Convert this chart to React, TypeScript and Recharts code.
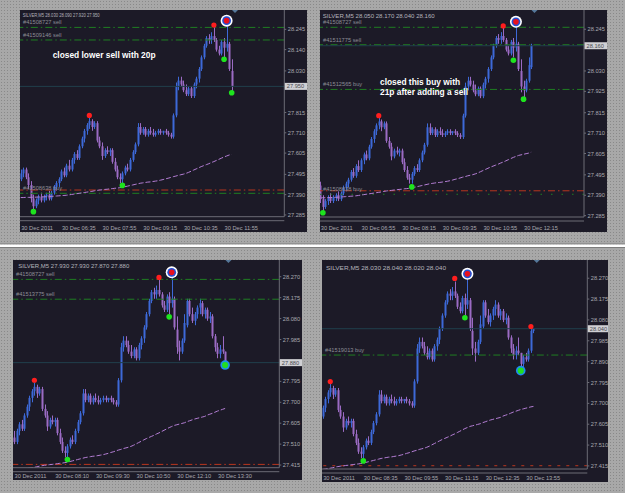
import React from "react";
import {
  ComposedChart,
  Bar,
  Line,
  Scatter,
  XAxis,
  YAxis,
  ReferenceLine,
  ReferenceDot,
} from "recharts";

const FONT = "'Liberation Sans', Arial, sans-serif";
const BG = "#1c1a27";
const BULL = "#3d69d8";
const BEAR = "#9b6bc4";
const MA_COL = "#b47ed4";
const AXIS = "#6c6c76";
const TXT = "#a9a9b0";
const BID = "#203f4c";

// SILVER M5, 30 Dec 2011 - bar 0 = 05:15 ... bar 107 = 14:10
const barOpen = [
  27.47, 27.5, 27.52, 27.48, 27.44, 27.37, 27.33, 27.36, 27.38, 27.36,
  27.38, 27.39, 27.37, 27.4, 27.43, 27.45, 27.47, 27.51, 27.49, 27.54,
  27.52, 27.57, 27.6, 27.58, 27.64, 27.68, 27.72, 27.75, 27.77, 27.74,
  27.76, 27.67, 27.64, 27.59, 27.62, 27.61, 27.62, 27.56, 27.52, 27.48,
  27.47, 27.5, 27.53, 27.52, 27.57, 27.61, 27.65, 27.74, 27.71, 27.73,
  27.7, 27.72, 27.71, 27.7, 27.71, 27.72, 27.71, 27.72, 27.71, 27.7,
  27.69, 27.8, 27.95, 27.98, 27.96, 27.93, 27.91, 27.94, 27.9, 27.96,
  27.99, 28.04, 28.1, 28.16, 28.2, 28.19, 28.21, 28.19, 28.14, 28.12,
  28.18, 28.15, 28.17, 28.03, 27.95, 27.93, 27.98, 28.05, 28.16, 28.1,
  28.07, 28.1, 28.13, 28.15, 28.1, 28.12, 28.08, 28.09, 28.0, 27.95,
  27.92, 27.94, 27.93, 27.88, 27.91, 27.9, 27.94, 28.03,
];
const barHigh = [
  27.52, 27.53, 27.53, 27.5, 27.46, 27.39, 27.37, 27.39, 27.4, 27.39,
  27.4, 27.41, 27.41, 27.44, 27.46, 27.48, 27.52, 27.53, 27.55, 27.57,
  27.58, 27.61, 27.62, 27.65, 27.69, 27.73, 27.76, 27.79, 27.78, 27.77,
  27.77, 27.69, 27.66, 27.63, 27.64, 27.63, 27.63, 27.58, 27.54, 27.5,
  27.51, 27.54, 27.55, 27.58, 27.62, 27.66, 27.76, 27.76, 27.74, 27.74,
  27.73, 27.74, 27.73, 27.72, 27.73, 27.73, 27.72, 27.73, 27.72, 27.71,
  27.81, 27.97, 28.0, 28.0, 27.98, 27.96, 27.95, 27.95, 27.97, 28.0,
  28.05, 28.11, 28.17, 28.21, 28.22, 28.23, 28.255, 28.2, 28.16, 28.19,
  28.2, 28.28, 28.18, 28.09, 27.98, 27.99, 28.1, 28.17, 28.17, 28.13,
  28.11, 28.14, 28.17, 28.16, 28.13, 28.13, 28.11, 28.1, 28.01, 27.97,
  27.96, 28.0, 27.93, 27.92, 27.93, 27.95, 28.04, 28.04,
];
const barLow = [
  27.46, 27.48, 27.47, 27.42, 27.35, 27.31, 27.32, 27.34, 27.35, 27.35,
  27.36, 27.36, 27.36, 27.39, 27.41, 27.43, 27.46, 27.48, 27.48, 27.51,
  27.51, 27.55, 27.57, 27.57, 27.63, 27.66, 27.7, 27.73, 27.72, 27.73,
  27.66, 27.63, 27.57, 27.58, 27.6, 27.59, 27.55, 27.51, 27.47, 27.45,
  27.45, 27.49, 27.51, 27.51, 27.56, 27.6, 27.64, 27.7, 27.7, 27.69,
  27.69, 27.7, 27.69, 27.69, 27.7, 27.7, 27.7, 27.7, 27.69, 27.68,
  27.68, 27.79, 27.93, 27.95, 27.92, 27.9, 27.9, 27.89, 27.89, 27.94,
  27.97, 28.03, 28.09, 28.15, 28.17, 28.17, 28.18, 28.13, 28.11, 28.11,
  28.1, 28.13, 28.03, 27.92, 27.89, 27.92, 27.97, 28.04, 28.09, 28.06,
  28.05, 28.08, 28.1, 28.09, 28.08, 28.07, 28.06, 27.99, 27.93, 27.9,
  27.9, 27.92, 27.87, 27.86, 27.89, 27.89, 27.93, 28.02,
];
const barClose = [
  27.5, 27.52, 27.48, 27.44, 27.37, 27.33, 27.36, 27.38, 27.36, 27.38,
  27.39, 27.37, 27.4, 27.43, 27.45, 27.47, 27.51, 27.49, 27.54, 27.52,
  27.57, 27.6, 27.58, 27.64, 27.68, 27.72, 27.75, 27.77, 27.74, 27.76,
  27.67, 27.64, 27.59, 27.62, 27.61, 27.62, 27.56, 27.52, 27.48, 27.47,
  27.5, 27.53, 27.52, 27.57, 27.61, 27.65, 27.74, 27.71, 27.73, 27.7,
  27.72, 27.71, 27.7, 27.71, 27.72, 27.71, 27.72, 27.71, 27.7, 27.69,
  27.8, 27.95, 27.98, 27.96, 27.93, 27.91, 27.94, 27.9, 27.96, 27.99,
  28.04, 28.1, 28.16, 28.2, 28.19, 28.21, 28.19, 28.14, 28.12, 28.18,
  28.15, 28.17, 28.04, 27.95, 27.93, 27.98, 28.06, 28.16, 28.1, 28.07,
  28.1, 28.13, 28.15, 28.1, 28.12, 28.08, 28.09, 28.0, 27.95, 27.92,
  27.94, 27.93, 27.88, 27.91, 27.9, 27.94, 28.03, 28.04,
];
// slow moving average as drawn on the chart
const maLine = [
  27.375, 27.375, 27.376, 27.376, 27.376, 27.377, 27.377, 27.378, 27.378, 27.379,
  27.379, 27.38, 27.381, 27.382, 27.383, 27.384, 27.385, 27.386, 27.387, 27.389,
  27.391, 27.393, 27.395, 27.397, 27.399, 27.401, 27.403, 27.405, 27.407, 27.41,
  27.412, 27.414, 27.415, 27.417, 27.418, 27.42, 27.421, 27.423, 27.424, 27.426,
  27.428, 27.431, 27.434, 27.437, 27.44, 27.443, 27.446, 27.449, 27.451, 27.453,
  27.455, 27.456, 27.458, 27.46, 27.462, 27.465, 27.468, 27.472, 27.475, 27.479,
  27.483, 27.486, 27.49, 27.493, 27.496, 27.5, 27.505, 27.511, 27.517, 27.523,
  27.529, 27.535, 27.54, 27.545, 27.55, 27.556, 27.561, 27.567, 27.573, 27.579,
  27.585, 27.59, 27.595, 27.598, 27.601, 27.604, 27.607, 27.612, 27.616, 27.62,
  27.624, 27.627, 27.63, 27.633, 27.636, 27.642, 27.646, 27.65, 27.655, 27.66,
  27.664, 27.668, 27.672, 27.675, 27.678, 27.681, 27.684, 27.686,
];

const yTicksWide = [28.245, 28.14, 28.03, 27.925, 27.815, 27.71, 27.605, 27.495, 27.39, 27.285];
const yTicksTight = [28.27, 28.175, 28.08, 27.985, 27.89, 27.795, 27.7, 27.605, 27.51, 27.415];

const p1TimeTicks = [0, 16, 32, 48, 64, 80];
const p1TimeLabels = ["30 Dec 2011", "30 Dec 06:35", "30 Dec 07:55", "30 Dec 09:15", "30 Dec 10:35", "30 Dec 11:55"];
const p2TimeTicks = [4, 20, 36, 52, 68, 84];
const p2TimeLabels = ["30 Dec 2011", "30 Dec 06:55", "30 Dec 08:15", "30 Dec 09:35", "30 Dec 10:55", "30 Dec 12:15"];
const p3TimeTicks = [19, 35, 51, 67, 83, 99];
const p3TimeLabels = ["30 Dec 2011", "30 Dec 08:10", "30 Dec 09:30", "30 Dec 10:50", "30 Dec 12:10", "30 Dec 13:30"];
const p4TimeTicks = [24, 40, 56, 72, 88, 104];
const p4TimeLabels = ["30 Dec 2011", "30 Dec 08:35", "30 Dec 09:55", "30 Dec 11:15", "30 Dec 12:35", "30 Dec 13:55"];

// order lines: price, kind, ticket label
const p1OrderPrices = [28.255, 28.19, 27.414, 27.397];
const p1OrderKinds = ["order", "order", "stop", "order"];
const p1OrderLabels = ["#41508727 sell", "#41509146 sell", "", "#41508638 buy"];
const p2OrderPrices = [28.255, 28.165, 27.935, 27.413, 27.395];
const p2OrderKinds = ["order", "order", "order", "stop", "take"];
const p2OrderLabels = ["#41508727 sell", "#41511775 sell", "#41512565 buy", "", "#41508638 buy"];
const p3OrderPrices = [28.258, 28.168, 27.418];
const p3OrderKinds = ["order", "order", "stop"];
const p3OrderLabels = ["#41508727 sell", "#41513775 sell", ""];
const p4OrderPrices = [27.92, 27.416];
const p4OrderKinds = ["order", "pending"];
const p4OrderLabels = ["#41519013 buy", ""];

// indicator marks [bar, price]
const p1Red = [[27, 27.8], [76, 28.267]];
const p1Green = [[5, 27.302], [40, 27.438], [80, 28.09], [83, 27.917]];
const p1Target = [[81, 28.29]];
const p1BuyTarget: number[][] = [];
const p2Red = [[27, 27.8], [76, 28.262]];
const p2Green = [[5, 27.3], [40, 27.433], [80, 28.085], [84, 27.885]];
const p2Target = [[81, 28.283]];
const p2BuyTarget: number[][] = [];
const p3Red = [[27, 27.8], [76, 28.267]];
const p3Green = [[40, 27.44], [80, 28.088]];
const p3Target = [[81, 28.29]];
const p3BuyTarget = [[102, 27.869]];
const p4Red = [[27, 27.799], [76, 28.269], [106, 28.05]];
const p4Green = [[40, 27.438], [80, 28.09]];
const p4Target = [[81, 28.29]];
const p4BuyTarget = [[102, 27.849]];

const headers = [
  "SILVER,M5  28.030 28.090 27.920 27.950",
  "SILVER,M5  28.050 28.170 28.040 28.160",
  "SILVER,M5  27.930 27.930 27.870 27.880",
  "SILVER,M5  28.030 28.040 28.020 28.040",
];
const bids = [27.95, 28.16, 27.88, 28.04];

const ROWS = barOpen.map((o, i) => ({
  i,
  open: o,
  high: barHigh[i],
  low: barLow[i],
  close: barClose[i],
  range: [barLow[i], barHigh[i]],
  ma: maLine[i],
}));

const LINE_STYLE: Record<string, { c: string; d: string }> = {
  order: { c: "#1f7f22", d: "7 3 1.5 3" },
  stop: { c: "#b8361e", d: "7 3 1.5 3" },
  take: { c: "#1f7f22", d: "1.5 9" },
  pending: { c: "#b8361e", d: "3 6" },
};

const PANELS = [
  {
    box: { x: 20, y: 10, w: 287, h: 222 }, plot: { l: 20, t: 10, r: 284.3, b: 216.7 },
    from: 0, to: 83, xDomain: [-0.28, 103.7], yDomain: [27.276, 28.345], yTicks: yTicksWide,
    xTicks: p1TimeTicks, xLabels: p1TimeLabels, labelDy: 13,
    prices: p1OrderPrices, kinds: p1OrderKinds, tickets: p1OrderLabels,
    red: p1Red, green: p1Green, target: p1Target, buyTarget: p1BuyTarget,
    header: headers[0], headerX: 22.7, headerY: 17.3, headerW: 77, bid: bids[0],
  },
  {
    box: { x: 320, y: 10, w: 287, h: 222 }, plot: { l: 320, t: 10, r: 584, b: 217 },
    from: 4, to: 87, xDomain: [3.86, 107.8], yDomain: [27.278, 28.344], yTicks: yTicksWide,
    xTicks: p2TimeTicks, xLabels: p2TimeLabels, labelDy: 12.7,
    prices: p2OrderPrices, kinds: p2OrderKinds, tickets: p2OrderLabels,
    red: p2Red, green: p2Green, target: p2Target, buyTarget: p2BuyTarget,
    header: headers[1], headerX: 322.7, headerY: 18, headerW: 112, bid: bids[1],
  },
  {
    box: { x: 13, y: 260, w: 289, h: 220 }, plot: { l: 13, t: 260, r: 279.3, b: 467.7 },
    from: 19, to: 102, xDomain: [18.6, 123.3], yDomain: [27.403, 28.346], yTicks: yTicksTight,
    xTicks: p3TimeTicks, xLabels: p3TimeLabels, labelDy: 10,
    prices: p3OrderPrices, kinds: p3OrderKinds, tickets: p3OrderLabels,
    red: p3Red, green: p3Green, target: p3Target, buyTarget: p3BuyTarget,
    header: headers[2], headerX: 18.3, headerY: 267.7, headerW: 111, bid: bids[2],
  },
  {
    box: { x: 322, y: 260, w: 286, h: 222 }, plot: { l: 322, t: 260, r: 587.3, b: 469 },
    from: 24, to: 107, xDomain: [23.74, 128.2], yDomain: [27.401, 28.353], yTicks: yTicksTight,
    xTicks: p4TimeTicks, xLabels: p4TimeLabels, labelDy: 10.7,
    prices: p4OrderPrices, kinds: p4OrderKinds, tickets: p4OrderLabels,
    red: p4Red, green: p4Green, target: p4Target, buyTarget: p4BuyTarget,
    header: headers[3], headerX: 326, headerY: 269.7, headerW: 120, bid: bids[3],
  },
];

function Candle(props: any) {
  const { x, y, width, height, payload } = props;
  if (!payload || x == null || y == null) return null;
  const { open, high, low, close } = payload;
  const cx = Math.round(x + width / 2);
  const top = Math.min(y, y + height);
  const span = Math.abs(height);
  const k = high > low ? span / (high - low) : 0;
  const yO = top + (high - open) * k;
  const yC = top + (high - close) * k;
  const col = close >= open ? BULL : BEAR;
  return (
    <g>
      <rect x={cx} y={top} width={1} height={Math.max(span, 1)} fill={col} />
      <rect x={cx - 0.5} y={Math.min(yO, yC)} width={2} height={Math.max(Math.abs(yC - yO), 1)} fill={col} />
    </g>
  );
}

const RedDot = (p: any) => <circle cx={p.cx} cy={p.cy} r={2.6} fill="#ff1e1e" />;
const GreenDot = (p: any) => <circle cx={p.cx} cy={p.cy} r={2.8} fill="#1ee41e" />;
const TargetDot = (p: any) => (
  <g>
    <circle cx={p.cx} cy={p.cy} r={6} fill="#ffffff" />
    <circle cx={p.cx} cy={p.cy} r={4.4} fill="#2450d4" />
    <circle cx={p.cx} cy={p.cy} r={2.8} fill="#e8101e" />
  </g>
);
const BuyTargetDot = (p: any) => (
  <g>
    <circle cx={p.cx} cy={p.cy} r={4.8} fill="#1e8cf0" />
    <circle cx={p.cx} cy={p.cy} r={3.1} fill="#22dd22" />
  </g>
);
const ShiftMark = (p: any) => (
  <path d={`M${p.cx - 3},${p.cy} L${p.cx + 3},${p.cy} L${p.cx},${p.cy + 3} Z`} fill="#56789a" />
);

function TimeTick(props: any) {
  const { x, y, payload, pn } = props;
  const k = pn.xTicks.indexOf(payload.value);
  return (
    <text x={x + 0.5} y={y + pn.labelDy} fill={TXT} fontSize={5.7} fontFamily={FONT}>
      {pn.xLabels[k]}
    </text>
  );
}

const toPts = (arr: number[][]) => arr.map(([i, p]) => ({ i, p }));

function PanelChart({ pn }: { pn: any }) {
  const rows = ROWS.slice(pn.from, pn.to + 1);
  const { w, h } = pn.box;
  const yW = pn.box.x + w - pn.plot.r;
  const xH = pn.box.y + h - pn.plot.b;
  // the bid box on the price scale covers the tick next to it
  const yTicks = pn.yTicks.filter((v: number) => Math.abs(v - pn.bid) > 0.03);
  // an empty Scatter would fall back to the chart rows, so skip empty sets
  const markSets = [
    [pn.red, RedDot],
    [pn.green, GreenDot],
    [pn.target, TargetDot],
    [pn.buyTarget, BuyTargetDot],
  ].filter(([pts]) => (pts as number[][]).length > 0);
  return (
    <div style={{ position: "absolute", left: pn.box.x, top: pn.box.y, width: w, height: h, background: BG }}>
      <ComposedChart width={w} height={h} data={rows} margin={{ top: 0, right: 0, bottom: 0, left: 0 }}>
        <XAxis
          dataKey="i"
          type="number"
          domain={pn.xDomain}
          allowDataOverflow
          ticks={pn.xTicks}
          interval={0}
          height={xH}
          tickSize={0}
          tickMargin={0}
          tickLine={false}
          axisLine={{ stroke: AXIS }}
          tick={(t: any) => <TimeTick {...t} pn={pn} />}
        />
        <YAxis
          orientation="right"
          type="number"
          domain={pn.yDomain}
          allowDataOverflow
          ticks={yTicks}
          interval={0}
          width={yW}
          tickSize={2}
          tickMargin={1.5}
          tickLine={{ stroke: AXIS }}
          axisLine={{ stroke: AXIS }}
          tick={{ fill: TXT, fontSize: 5.7, fontFamily: FONT }}
          tickFormatter={(v: number) => v.toFixed(3)}
        />
        {pn.prices.map((p: number, k: number) => (
          <ReferenceLine
            key={`o${k}`}
            y={p}
            stroke={LINE_STYLE[pn.kinds[k]].c}
            strokeDasharray={LINE_STYLE[pn.kinds[k]].d}
            label={
              pn.tickets[k]
                ? { value: pn.tickets[k], position: "insideBottomLeft", offset: 3, fill: "#8d8d96", fontSize: 5.7, fontFamily: FONT }
                : undefined
            }
          />
        ))}
        <ReferenceLine y={pn.bid} stroke={BID} />
        <Line dataKey="ma" type="linear" stroke={MA_COL} strokeWidth={1} strokeDasharray="5 2" dot={false} isAnimationActive={false} />
        <Bar dataKey="range" shape={(p: any) => <Candle {...p} />} isAnimationActive={false} />
        {markSets.map(([pts, shape], k) => (
          <Scatter key={`m${k}`} data={toPts(pts as number[][])} dataKey="p" shape={shape as any} isAnimationActive={false} />
        ))}
        <ReferenceDot x={pn.to + 1.3} y={pn.yDomain[1]} shape={ShiftMark} />
      </ComposedChart>
    </div>
  );
}

function Overlay() {
  return (
    <svg width={625} height={493} style={{ position: "absolute", left: 0, top: 0, pointerEvents: "none" }}>
      <rect x={0} y={243.5} width={625} height={1} fill="#7c7c7c" />
      <rect x={0} y={244.5} width={625} height={2.5} fill="#ffffff" />
      <rect x={0} y={247} width={625} height={1} fill="#7c7c7c" />
      {PANELS.map((pn, k) => {
        const { l, t, r, b } = pn.plot;
        const [y0, y1] = pn.yDomain;
        const by = t + ((y1 - pn.bid) / (y1 - y0)) * (b - t);
        const right = pn.box.x + pn.box.w;
        return (
          <g key={k}>
            <line x1={l} x2={r} y1={b + 4} y2={b + 4} stroke={AXIS} />
            <text
              x={pn.headerX}
              y={pn.headerY}
              fill="#b4b4bc"
              fontSize={5.7}
              fontFamily={FONT}
              textLength={pn.headerW}
              lengthAdjust="spacingAndGlyphs"
            >
              {pn.header}
            </text>
            <rect x={r + 0.5} y={by - 3.5} width={right - r - 0.5} height={7} fill="#d0d0d4" />
            <text x={r + 2.5} y={by + 2} fill="#4a4a50" fontSize={5.7} fontFamily={FONT}>
              {pn.bid.toFixed(3)}
            </text>
          </g>
        );
      })}
      <g fill="#ffffff" fontSize={8.4} fontWeight="bold" fontFamily={FONT}>
        <text x={52.7} y={57.5}>closed lower sell with 20p</text>
        <text x={380} y={85}>closed this buy with</text>
        <text x={380} y={94.5}>21p after adding a sell</text>
      </g>
    </svg>
  );
}

export default function App() {
  return (
    <div
      style={{
        position: "absolute",
        left: 0,
        top: 0,
        width: 625,
        height: 493,
        overflow: "hidden",
        backgroundColor: "#a8a8a8",
        backgroundImage: "radial-gradient(rgba(80,80,80,0.35) 0.5px, transparent 0.9px)",
        backgroundSize: "3px 3px",
      }}
    >
      {PANELS.map((pn, k) => (
        <PanelChart key={k} pn={pn} />
      ))}
      <Overlay />
    </div>
  );
}
